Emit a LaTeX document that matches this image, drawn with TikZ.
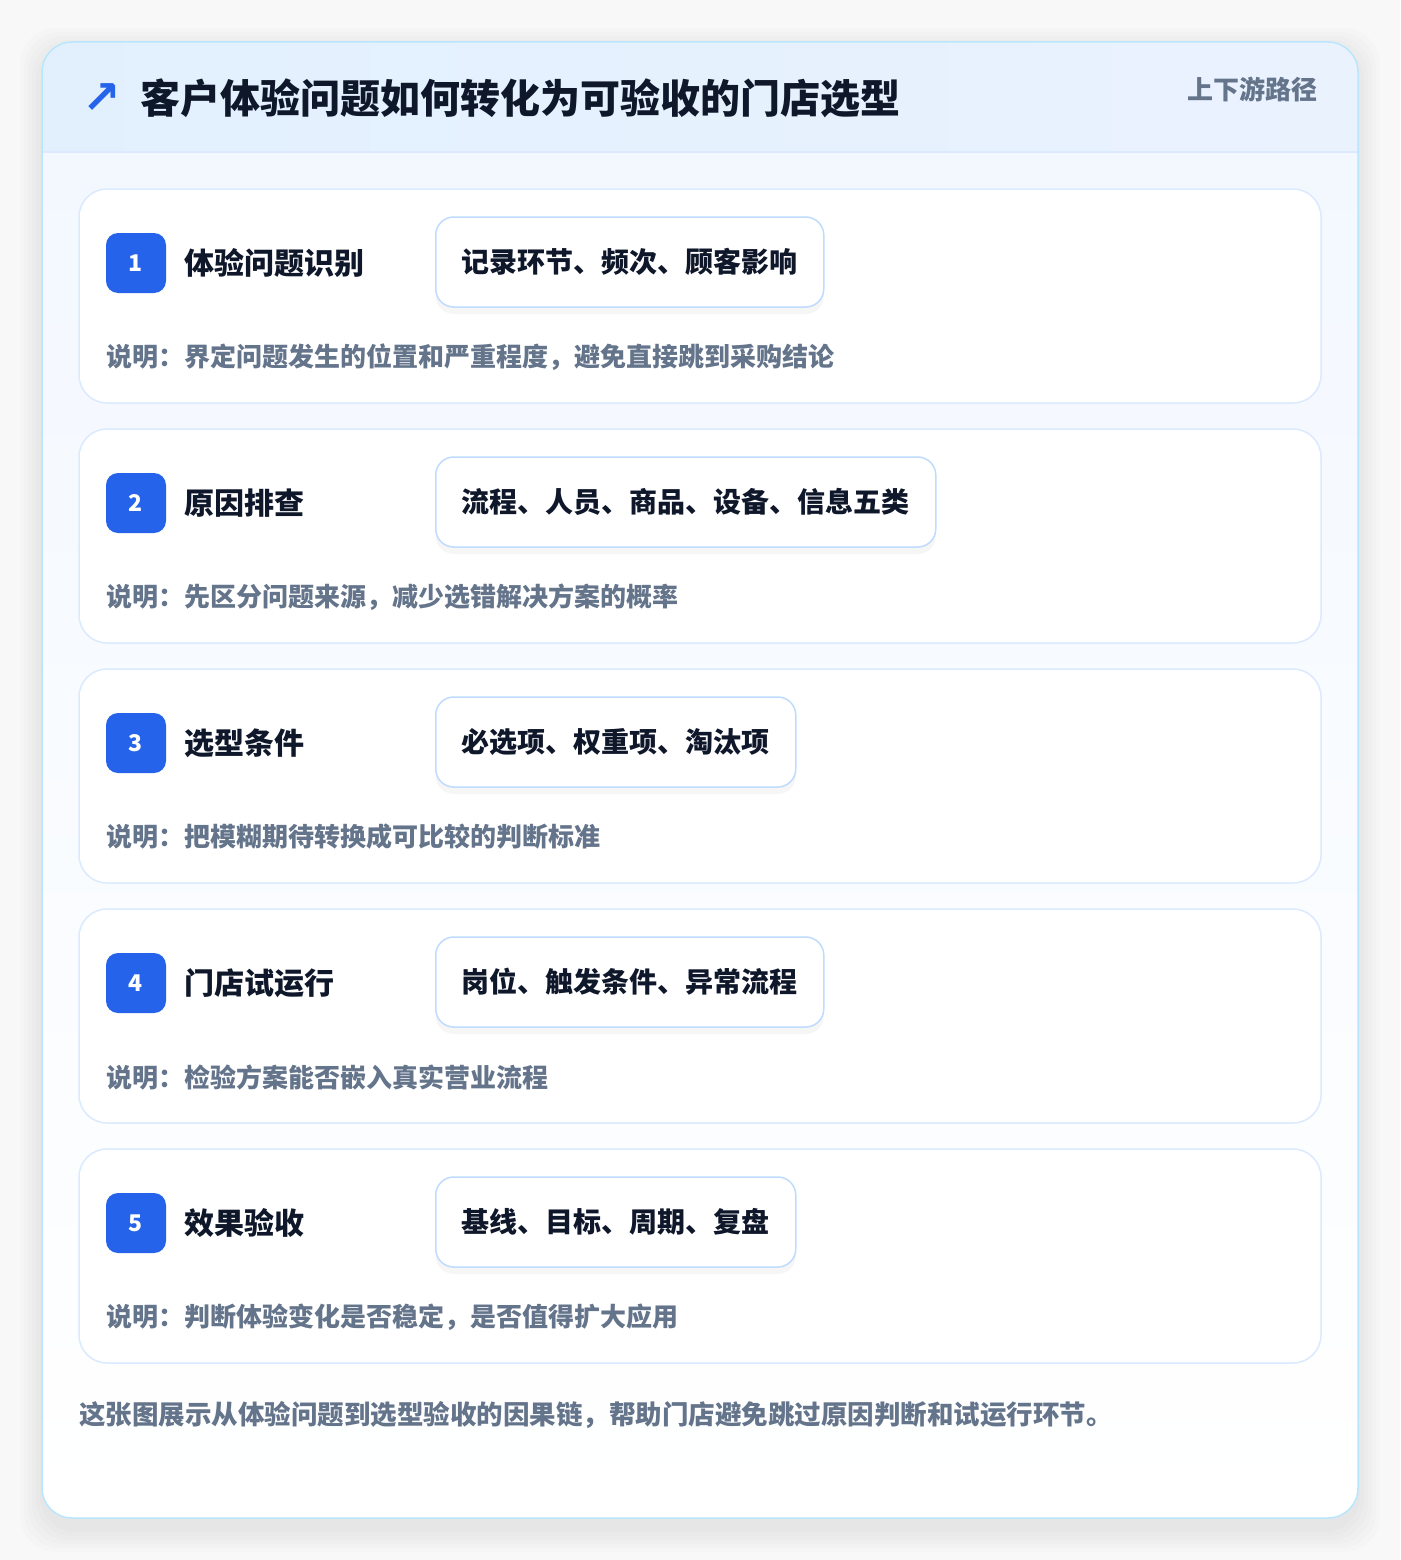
\documentclass[tikz,border=0pt]{standalone}
\usepackage{fontspec}
\setmainfont{Noto Sans CJK SC}
\newfontfamily\symfont{DejaVu Sans}
\usetikzlibrary{positioning}

\definecolor{inkdark}{HTML}{0F172A}
\definecolor{inkgray}{HTML}{64748B}
\definecolor{badgeblue}{HTML}{2563EB}
\definecolor{cardline}{HTML}{DBEAFE}
\definecolor{outerline}{HTML}{BAE6FD}
\definecolor{tagline}{HTML}{BFDBFE}
\definecolor{headtop}{HTML}{E2F0FE}
\definecolor{headbot}{HTML}{EAF2FE}
\definecolor{bodytop}{HTML}{F3F8FF}
\definecolor{pagebg}{HTML}{F8F8F9}

\tikzset{
  stepcard/.style={draw=cardline, line width=1.5pt, fill=white, rounded corners=28pt},
  badge/.style={fill=badgeblue, text=white, rounded corners=12pt, minimum size=60pt,
    inner sep=0pt, font=\fontsize{23}{25}\selectfont\bfseries},
  steptitle/.style={anchor=west, text=inkdark, inner sep=0pt, font=\fontsize{30}{34}\selectfont\bfseries},
  tagbox/.style={draw=tagline, line width=1.5pt, fill=white, rounded corners=18pt, anchor=west,
    minimum height=90pt, inner xsep=26pt, text=inkdark, font=\fontsize{28}{32}\selectfont\bfseries,
    preaction={fill=black, opacity=0.035, transform canvas={yshift=-7pt}}},
  desctext/.style={anchor=west, text=inkgray, inner sep=0pt, font=\fontsize{26}{30}\selectfont\bfseries},
}

\begin{document}
\begin{tikzpicture}[x=1pt, y=-1pt]
  \useasboundingbox (0,0) rectangle (1400,1560);
  \fill[pagebg] (0,0) rectangle (1400,1560);

  % soft shadow of the outer card
  \foreach \s in {2,6,10,14,18,22}
    \fill[black, opacity=0.012, rounded corners=36pt] (42-\s,50-\s) rectangle (1358+\s,1530+\s);

  % outer card
  \begin{scope}
    \clip[rounded corners=30pt] (42,42) rectangle (1358,1518);
    \shade[top color=bodytop, bottom color=white] (42,152) rectangle (1358,1518);
    \shade[left color=headtop, right color=headbot] (42,42) rectangle (1358,152);
    \draw[cardline, line width=1.5pt] (42,152) -- (1358,152);
  \end{scope}
  \draw[outerline, line width=1.5pt, rounded corners=30pt] (42,42) rectangle (1358,1518);

  % header
  \node[text=badgeblue, inner sep=0pt, font=\symfont\fontsize{46}{46}\selectfont\bfseries] (icon) at (102,99) {↗};
  \node[anchor=west, text=inkdark, inner sep=0pt, font=\fontsize{40}{44}\selectfont\bfseries] (title) at (140,98)
    {客户体验问题如何转化为可验收的门店选型};
  \node[anchor=east, text=inkgray, inner sep=0pt, font=\fontsize{26}{30}\selectfont\bfseries] (route) at (1318,89)
    {上下游路径};

  % steps
  \foreach \n/\ttl/\tg/\desc in {
      1/体验问题识别/记录环节、频次、顾客影响/说明：界定问题发生的位置和严重程度，避免直接跳到采购结论,
      2/原因排查/流程、人员、商品、设备、信息五类/说明：先区分问题来源，减少选错解决方案的概率,
      3/选型条件/必选项、权重项、淘汰项/说明：把模糊期待转换成可比较的判断标准,
      4/门店试运行/岗位、触发条件、异常流程/说明：检验方案能否嵌入真实营业流程,
      5/效果验收/基线、目标、周期、复盘/说明：判断体验变化是否稳定，是否值得扩大应用}
  {
    \pgfmathsetmacro{\oy}{(\n-1)*240}
    \draw[stepcard] (79,189+\oy) rectangle (1321,403+\oy);
    \node[badge] (badge\n) at (136,263+\oy) {\n};
    \node[steptitle] (title\n) at (184,263+\oy) {\ttl};
    \node[tagbox] (tag\n) at (435,262+\oy) {\tg};
    \node[desctext] (desc\n) at (106,357+\oy) {\desc};
  }

  % footer
  \node[anchor=west, text=inkgray, inner sep=0pt, font=\fontsize{26.5}{30}\selectfont\bfseries] (note) at (79,1415)
    {这张图展示从体验问题到选型验收的因果链，帮助门店避免跳过原因判断和试运行环节。};
\end{tikzpicture}
\end{document}
